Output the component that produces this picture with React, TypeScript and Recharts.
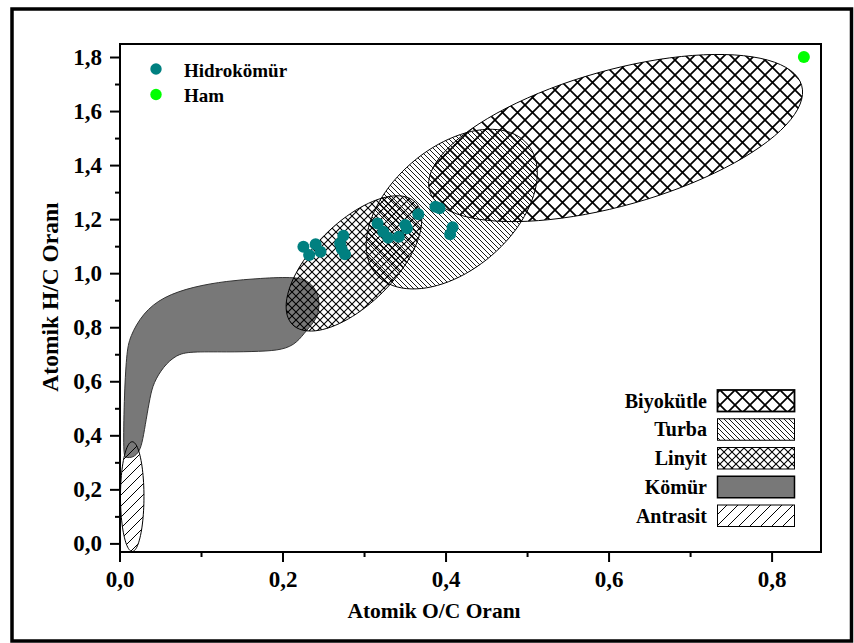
import React from "react";
import { ComposedChart, Scatter, XAxis, YAxis, ReferenceArea } from "recharts";

// axes
const xDomain = [0, 0.86];
const yDomain = [-0.03, 1.85];
const xTicks = [0, 0.1, 0.2, 0.3, 0.4, 0.5, 0.6, 0.7, 0.8];
const yTicks = [0, 0.1, 0.2, 0.3, 0.4, 0.5, 0.6, 0.7, 0.8, 0.9, 1.0, 1.1, 1.2, 1.3, 1.4, 1.5, 1.6, 1.7, 1.8];

// measured samples
const hidroOC = [0.225, 0.232, 0.240, 0.246, 0.274, 0.270, 0.272, 0.276, 0.316, 0.323, 0.329, 0.342, 0.350, 0.352, 0.366, 0.387, 0.392, 0.408, 0.405];
const hidroHC = [1.100, 1.069, 1.109, 1.081, 1.140, 1.112, 1.091, 1.072, 1.186, 1.155, 1.133, 1.137, 1.180, 1.168, 1.220, 1.248, 1.242, 1.172, 1.146];
const hamOC = [0.839];
const hamHC = [1.802];

// regions: centre, major-axis tip offset, minor-axis tip offset (O/C, H/C units)
const antrasit = { cx: 0.015, cy: 0.175, ax: 0.0, ay: 0.203, bx: 0.0144, by: 0.0 };
const linyit = { cx: 0.287, cy: 1.038, ax: 0.0753, ay: 0.2266, bx: -0.0354, by: 0.1064 };
const turba = { cx: 0.407, cy: 1.239, ax: 0.0928, ay: 0.2409, bx: -0.0491, by: 0.1711 };
const biyokutle = { cx: 0.608, cy: 1.502, ax: 0.2283, ay: 0.1944, bx: -0.0226, by: 0.2406 };

// coal band outline (O/C, H/C)
const komurOutline = [
  [0.004, 0.326], [0.005, 0.533], [0.008, 0.706], [0.012, 0.767], [0.028, 0.854],
  [0.053, 0.915], [0.09, 0.952], [0.131, 0.973], [0.172, 0.983], [0.217, 0.989],
  [0.233, 0.97], [0.243, 0.928], [0.245, 0.878], [0.241, 0.829], [0.229, 0.792],
  [0.217, 0.743], [0.2, 0.718], [0.172, 0.712], [0.131, 0.71], [0.086, 0.712],
  [0.069, 0.7], [0.053, 0.656], [0.041, 0.595], [0.037, 0.545], [0.032, 0.459],
  [0.028, 0.385], [0.024, 0.341], [0.016, 0.319], [0.007, 0.319],
];

const legendRows = [
  { name: "Biyokütle", fill: "url(#pBiyo)", sw: 1.8 },
  { name: "Turba", fill: "url(#pTurba)", sw: 1 },
  { name: "Linyit", fill: "url(#pLinyit)", sw: 1 },
  { name: "Kömür", fill: "#787878", sw: 1.5 },
  { name: "Antrasit", fill: "url(#pAntrasit)", sw: 1 },
];

const FONT = '"Liberation Serif", "Times New Roman", serif';
const TICK_SIZE = 10;
const TICK_MARGIN = 9;

const ellipse = (e: typeof linyit) =>
  Array.from({ length: 96 }, (_, i) => {
    const t = (2 * Math.PI * i) / 96;
    return {
      x: e.cx + e.ax * Math.cos(t) + e.bx * Math.sin(t),
      y: e.cy + e.ay * Math.cos(t) + e.by * Math.sin(t),
    };
  });

const hidroData = hidroOC.map((x, i) => ({ x, y: hidroHC[i] }));
const hamData = hamOC.map((x, i) => ({ x, y: hamHC[i] }));
const komurData = komurOutline.map(([x, y]) => ({ x, y }));

const fmt = (v: number) => v.toFixed(1).replace(".", ",");
const isMajor = (v: number) => Math.round(v * 10) % 2 === 0;

const XTick = (props: any) => {
  const { x, y, payload } = props;
  const v = payload.value;
  const axisY = y - TICK_SIZE - TICK_MARGIN;
  return (
    <g>
      <line x1={x} x2={x} y1={axisY} y2={axisY + (isMajor(v) ? 10 : 5)} stroke="#000" strokeWidth={2} />
      {isMajor(v) && (
        <text x={x} y={y + 16} textAnchor="middle" fontFamily={FONT} fontWeight="bold" fontSize={23} fill="#000">
          {fmt(v)}
        </text>
      )}
    </g>
  );
};

const YTick = (props: any) => {
  const { x, y, payload } = props;
  const v = payload.value;
  const axisX = x + TICK_SIZE + TICK_MARGIN;
  return (
    <g>
      <line x1={axisX - (isMajor(v) ? 10 : 5)} x2={axisX} y1={y} y2={y} stroke="#000" strokeWidth={2} />
      {isMajor(v) && (
        <text x={x + 1} y={y + 7.5} textAnchor="end" fontFamily={FONT} fontWeight="bold" fontSize={23} fill="#000">
          {fmt(v)}
        </text>
      )}
    </g>
  );
};

const noDot = () => <g />;
const dot = (color: string, r: number) => (p: any) => <circle cx={p.cx} cy={p.cy} r={r} fill={color} />;

const region = (data: { x: number; y: number }[], fill: string, stroke: string, type: any) => (
  <Scatter
    data={data}
    shape={noDot}
    line={{ fill, stroke, strokeWidth: 1 }}
    lineJointType={type}
    isAnimationActive={false}
  />
);

export default function App() {
  return (
    <div style={{ position: "absolute", left: 0, top: 0, width: 854, height: 643, background: "#fff" }}>
      <ComposedChart width={854} height={643} margin={{ top: 44, right: 33, left: 60, bottom: 51 }}>
        <XAxis
          type="number"
          dataKey="x"
          domain={xDomain}
          ticks={xTicks}
          interval={0}
          allowDataOverflow
          height={40}
          tickSize={TICK_SIZE}
          tickMargin={TICK_MARGIN}
          tickLine={false}
          tick={(p: any) => <XTick {...p} />}
          axisLine={{ stroke: "#000", strokeWidth: 2 }}
        />
        <YAxis
          type="number"
          dataKey="y"
          domain={yDomain}
          ticks={yTicks}
          interval={0}
          allowDataOverflow
          width={60}
          tickSize={TICK_SIZE}
          tickMargin={TICK_MARGIN}
          tickLine={false}
          tick={(p: any) => <YTick {...p} />}
          axisLine={{ stroke: "#000", strokeWidth: 2 }}
        />
        {region(komurData, "#787878", "#333", "basisClosed")}
        {region(ellipse(antrasit), "url(#pAntrasit)", "#000", "linearClosed")}
        {region(ellipse(linyit), "url(#pLinyit)", "#000", "linearClosed")}
        {region(ellipse(turba), "url(#pTurba)", "#000", "linearClosed")}
        {region(ellipse(biyokutle), "url(#pBiyo)", "#000", "linearClosed")}
        <Scatter data={hidroData} shape={dot("#008080", 6)} isAnimationActive={false} />
        <Scatter data={hamData} shape={dot("#00ff00", 6)} isAnimationActive={false} />
        <ReferenceArea x1={0} x2={0.86} y1={-0.03} y2={1.85} fill="none" stroke="#000" strokeWidth={2} />
      </ComposedChart>

      <svg width={854} height={643} style={{ position: "absolute", left: 0, top: 0, pointerEvents: "none" }}>
        <defs>
          <pattern id="pBiyo" patternUnits="userSpaceOnUse" width={15} height={15}>
            <path d="M-4,-4 L19,19 M19,-4 L-4,19" stroke="#000" strokeWidth={1.7} fill="none" />
          </pattern>
          <pattern id="pLinyit" patternUnits="userSpaceOnUse" width={8} height={8}>
            <path d="M-2,-2 L10,10 M10,-2 L-2,10" stroke="#000" strokeWidth={1.1} fill="none" />
          </pattern>
          <pattern id="pTurba" patternUnits="userSpaceOnUse" width={5} height={5}>
            <path d="M-1,-1 L6,6 M4,-1 L6,1 M-1,4 L1,6" stroke="#000" strokeWidth={0.9} fill="none" />
          </pattern>
          <pattern id="pAntrasit" patternUnits="userSpaceOnUse" width={11} height={11}>
            <path d="M-1,12 L12,-1 M-1,1 L1,-1 M10,12 L12,10" stroke="#000" strokeWidth={1} fill="none" />
          </pattern>
        </defs>
        <rect x={12} y={9} width={839.5} height={632} fill="none" stroke="#000" strokeWidth={3.5} />
        <text x={434} y={618} textAnchor="middle" fontFamily={FONT} fontWeight="bold" fontSize={21.5}>
          Atomik O/C Oranı
        </text>
        <text transform="translate(58,297) rotate(-90)" textAnchor="middle" fontFamily={FONT} fontWeight="bold" fontSize={23.5}>
          Atomik H/C Oranı
        </text>

        <circle cx={156} cy={69} r={5.7} fill="#008080" />
        <text x={184} y={77} fontFamily={FONT} fontWeight="bold" fontSize={19}>Hidrokömür</text>
        <circle cx={156} cy={94.5} r={5.7} fill="#00ff00" />
        <text x={184} y={102} fontFamily={FONT} fontWeight="bold" fontSize={19}>Ham</text>

        {legendRows.map((r, i) => {
          const top = 390 + i * 28.75;
          return (
            <g key={r.name}>
              <text x={707} y={top + 17.5} textAnchor="end" fontFamily={FONT} fontWeight="bold" fontSize={20}>
                {r.name}
              </text>
              <rect x={717.5} y={top} width={77} height={21.5} fill={r.fill} stroke="#000" strokeWidth={r.sw} />
            </g>
          );
        })}
      </svg>
    </div>
  );
}
